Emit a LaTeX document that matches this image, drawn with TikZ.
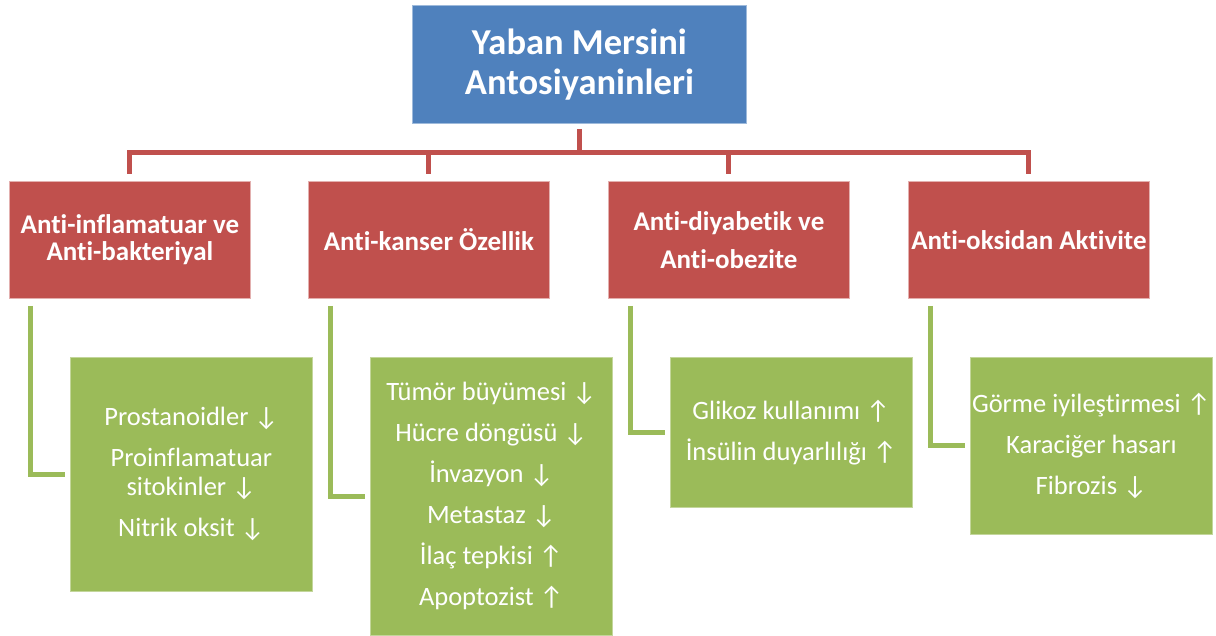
\documentclass[tikz,border=0pt]{standalone}
\usepackage{fontspec}
\setmainfont{Carlito}[Ligatures={NoCommon}]
\usetikzlibrary{calc}
\definecolor{cblue}{HTML}{4F81BD}
\definecolor{cred}{HTML}{C0504D}
\definecolor{cgreen}{HTML}{9BBB59}
\newcommand\dnar{↓}
\newcommand\upar{↑}
\begin{document}
\begin{tikzpicture}[x=1pt,y=-1pt,
  basebox/.style={text=white, align=center, inner sep=0pt, anchor=north west, line width=0.8pt},
  topbox/.style={basebox, fill=cblue, draw=cblue!55!white, font=\bfseries\fontsize{36.5}{40}\selectfont},
  catbox/.style={basebox, fill=cred, draw=cred!45!white, font=\bfseries\fontsize{27}{27}\selectfont, minimum width=241pt, minimum height=117pt},
  leafbox/.style={basebox, fill=cgreen, draw=cgreen!60!white, font=\fontsize{26.5}{29}\selectfont, minimum width=242pt},
  redline/.style={draw=cred, line width=5pt},
  greenline/.style={draw=cgreen, line width=5pt, shorten <=7pt, shorten >=5pt}]
\useasboundingbox (0,0) rectangle (1216,636);

\node[topbox, minimum width=334pt, minimum height=118pt] (top) at (412,5) {Yaban Mersini\\Antosiyaninleri};

\node[catbox] (r1) at (9,181) {Anti-inflamatuar ve\\Anti-bakteriyal};
\node[catbox] (r2) at (308,181) {Anti-kanser Özellik};
\node[catbox] (r3) at (608,181) {Anti-diyabetik ve\\[11pt]Anti-obezite};
\node[catbox] (r4) at (908,181) {Anti-oksidan Aktivite};

\node[leafbox, minimum height=234pt] (g1) at (70,357) {Prostanoidler \dnar\\[12pt]Proinflamatuar\\sitokinler \dnar\\[12pt]Nitrik oksit \dnar};
\node[leafbox, minimum height=278pt] (g2) at (370,357) {Tümör büyümesi \dnar\\[12pt]Hücre döngüsü \dnar\\[12pt]İnvazyon \dnar\\[12pt]Metastaz \dnar\\[12pt]İlaç tepkisi \upar\\[12pt]Apoptozist \upar};
\node[leafbox, minimum height=150pt] (g3) at (670,357) {Glikoz kullanımı \upar\\[12pt]İnsülin duyarlılığı \upar};
\node[leafbox, minimum height=177pt] (g4) at (970,357) {Görme iyileştirmesi \upar\\[12pt]Karaciğer hasarı\\[12pt]Fibrozis \dnar};

\coordinate (bus) at ($(top.south)+(0,29)$);
\draw[redline, shorten <=5pt] (top.south) -- (bus);
\draw[redline, shorten <=7pt, shorten >=7pt] (r1.north) |- (bus) -| (r4.north);
\draw[redline, shorten >=7pt] (bus) -| (r2.north);
\draw[redline, shorten >=7pt] (bus) -| (r3.north);

\draw[greenline] ($(r1.south west)+(21,0)$) |- (g1.west);
\draw[greenline] ($(r2.south west)+(22,0)$) |- (g2.west);
\draw[greenline] ($(r3.south west)+(22,0)$) |- (g3.west);
\draw[greenline] ($(r4.south west)+(22,0)$) |- (g4.west);
\end{tikzpicture}
\end{document}
